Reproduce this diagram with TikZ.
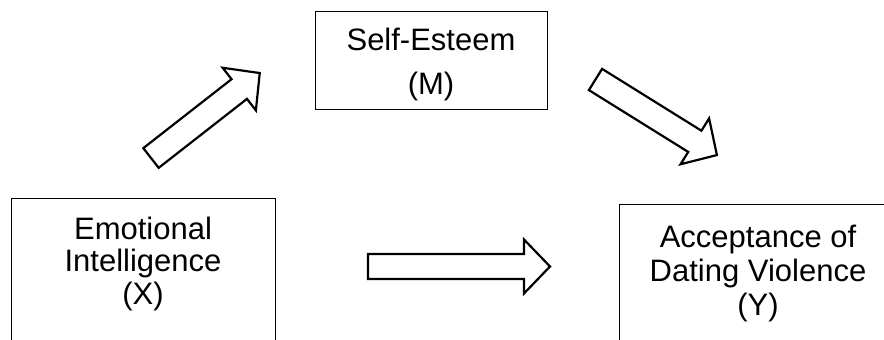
\documentclass[tikz,border=0pt]{standalone}
\usepackage{fontspec}
\setmainfont{Liberation Sans}
\tikzset{
  boxstyle/.style={draw=black, line width=1pt, rectangle, inner sep=0pt},
  lbl/.style={font=\fontsize{31}{33}\selectfont, inner sep=0pt, anchor=base},
  pics/barrow/.style={code={
    \draw[line width=2.2pt, line join=miter, fill=white]
      (0,-12.5) -- (#1-26,-12.5) -- (#1-26,-27) -- (#1,0) -- (#1-26,27)
      -- (#1-26,12.5) -- (0,12.5) -- cycle;}}
}
\begin{document}
\begin{tikzpicture}[x=1pt, y=1pt]
  \useasboundingbox (0,0) rectangle (884,340);
  \clip (0,0) rectangle (884,340);
  \fill[white] (0,0) rectangle (884,340);
  % boxes
  \node[boxstyle, minimum width=264pt, minimum height=200pt] (X) at (143,41) {};
  \node[boxstyle, minimum width=232pt, minimum height=98pt] (M) at (431,279) {};
  \node[boxstyle, minimum width=300pt, minimum height=200pt] (Y) at (769,35) {};
  % texts
  \node[lbl] (X1) at (143,100) {Emotional};
  \node[lbl] (X2) at (143,68) {Intelligence};
  \node[lbl] (X3) at (143,35) {(X)};
  \node[lbl] (M1) at (431,289) {Self-Esteem};
  \node[lbl] (M2) at (431,245) {(M)};
  \node[lbl] (Y1) at (758,92) {Acceptance of};
  \node[lbl] (Y2) at (758,58) {Dating Violence};
  \node[lbl] (Y3) at (758,24) {(Y)};
  % block arrows
  \coordinate (aXM) at (151,182);
  \coordinate (aMY) at (595.5,260.5);
  \coordinate (aXY) at (368,73.5);
  \pic[rotate=38] at (aXM) {barrow=138};
  \pic[rotate=-31.9] at (aMY) {barrow=143};
  \pic at (aXY) {barrow=182};
\end{tikzpicture}
\end{document}
